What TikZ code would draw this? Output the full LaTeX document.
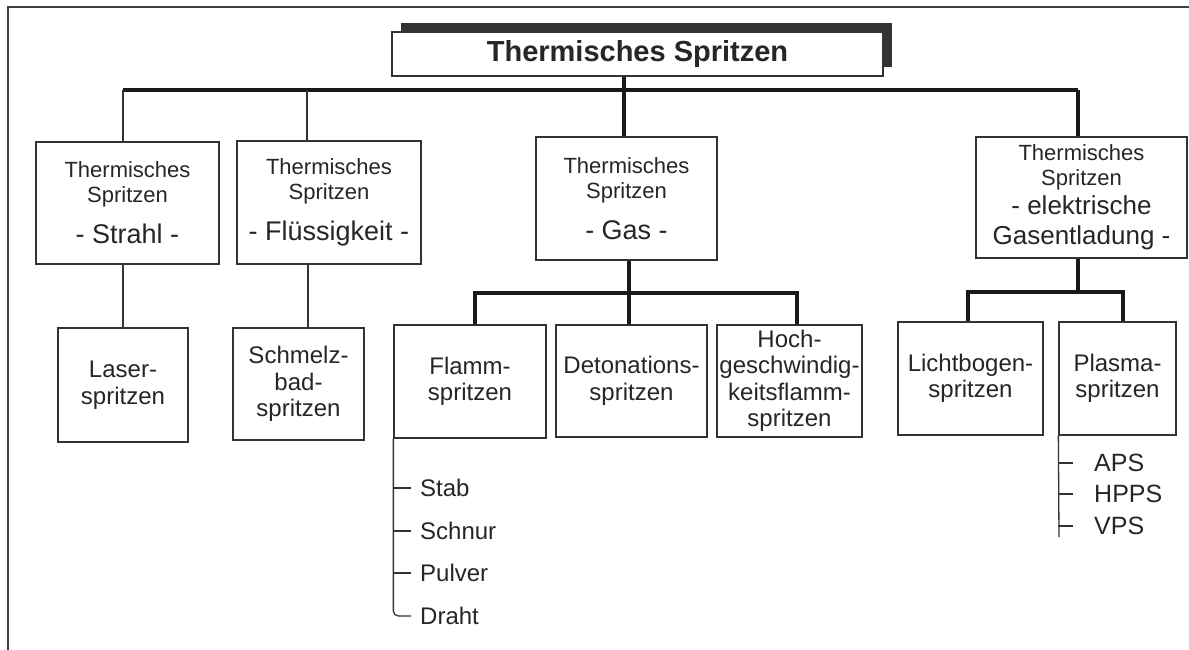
\documentclass[tikz,border=0pt]{standalone}
\usepackage{fontspec}
\setmainfont{Liberation Sans}
\usetikzlibrary{shadows}
\newcommand{\mybig}{\fontsize{27}{30}\selectfont}
\newcommand{\mymid}{\fontsize{26}{30}\selectfont}
\tikzset{
  box/.style={draw=black!80, line width=1.3pt, fill=white, inner sep=0pt, align=center,
              text=black!85, font=\fontsize{22}{25}\selectfont},
  subbox/.style={box, font=\fontsize{24}{26.5}\selectfont},
  bus/.style={line width=4pt, black!90},
  thinline/.style={line width=1.3pt, black!80},
  listitem/.style={anchor=west, inner ysep=0pt, inner xsep=9pt, text=black!85,
                   font=\fontsize{24}{27}\selectfont, text height=17pt, text depth=0pt},
  plitem/.style={listitem, inner xsep=21pt, font=\fontsize{25}{28}\selectfont}
}
\begin{document}
\begin{tikzpicture}[x=1pt,y=-1pt]
\useasboundingbox (0,0) rectangle (1189,650);
\fill[white] (0,0) rectangle (1189,650);
\draw[black!75, line width=1.3pt] (8,650) -- (8,7) -- (1189,7);

% title
\node[box, minimum width=491pt, minimum height=44pt,
      drop shadow={shadow xshift=9pt, shadow yshift=9pt, fill=black!80, opacity=1},
      font=\fontsize{29}{31}\selectfont\bfseries] (top) at (637.5,54) {Thermisches Spritzen};

% level 1
\node[box, minimum width=183pt, minimum height=122pt] (strahl) at (127.5,203)
  {Thermisches\\Spritzen\\[16pt]{\mybig - Strahl -}};
\node[box, minimum width=184pt, minimum height=123pt] (fluess) at (329,202.5)
  {Thermisches\\Spritzen\\[16pt]{\mybig - Flüssigkeit -}};
\node[box, minimum width=181pt, minimum height=123pt] (gas) at (626.5,198.5)
  {Thermisches\\Spritzen\\[16pt]{\mybig - Gas -}};
\node[box, minimum width=211pt, minimum height=121pt] (elek) at (1081.5,197.5)
  {Thermisches\\Spritzen\\[4pt]{\mymid - elektrische}\\[5pt]{\mymid Gasentladung -}};

% level 2
\node[subbox, minimum width=130pt, minimum height=114pt] (laser) at (123,385) {Laser-\\spritzen};
\node[subbox, minimum width=131pt, minimum height=112pt] (schmelz) at (298.5,384) {Schmelz-\\bad-\\spritzen};
\node[subbox, minimum width=152pt, minimum height=113pt] (flamm) at (470,381.5) {Flamm-\\spritzen};
\node[subbox, minimum width=151pt, minimum height=112pt] (deton) at (631.5,381) {Detonations-\\spritzen};
\node[subbox, minimum width=145pt, minimum height=112pt] (hoch) at (789.5,381) {Hoch-\\geschwindig-\\keitsflamm-\\spritzen};
\node[subbox, minimum width=145pt, minimum height=113pt] (licht) at (970.5,378.5) {Lichtbogen-\\spritzen};
\node[subbox, minimum width=117pt, minimum height=113pt] (plasma) at (1117.5,378.5) {Plasma-\\spritzen};

% lists
\node[listitem] (stab) at (411,488) {Stab};
\node[listitem] (schnur) at (411,531) {Schnur};
\node[listitem] (pulver) at (411,573) {Pulver};
\node[listitem] (draht) at (411,616) {Draht};
\node[plitem] (aps) at (1073,463) {APS};
\node[plitem] (hpps) at (1073,494) {HPPS};
\node[plitem] (vps) at (1073,526) {VPS};

% junction coordinates
\coordinate (b0) at (624,90);
\coordinate (bL) at (123,90);
\coordinate (bF) at (307,90);
\coordinate (bR) at (1078,90);
\coordinate (cF) at (308,300);
\coordinate (g0) at (629,293);
\coordinate (g1) at (475,293);
\coordinate (g2) at (797,293);
\coordinate (e0) at (1078,292);
\coordinate (e1) at (968,292);
\coordinate (e2) at (1123,292);
\coordinate (pend) at (1059,537);

% main tree
\draw[bus] (top.south -| b0) -- (gas.north -| b0);
\draw[bus] (bL) -- (bR);
\draw[bus] (bR) -- (elek.north -| bR);
\draw[thinline] (bL) -- (strahl.north -| bL);
\draw[thinline] (bF) -- (fluess.north -| bF);
\draw[thinline] (strahl.south -| laser.north) -- (laser.north);
\draw[thinline] (fluess.south -| cF) -- (schmelz.north -| cF);

% gas subtree
\draw[bus] (gas.south -| g0) -- (deton.north -| g0);
\draw[bus] (flamm.north -| g1) -- (g1) -- (g2) -- (hoch.north -| g2);

% electric subtree
\draw[bus] (elek.south -| e0) -- (e0);
\draw[bus] (licht.north -| e1) -- (e1) -- (e2) -- (plasma.north -| e2);

% flame list
\draw[thinline, rounded corners=5pt] (flamm.south west) |- (draht.west);
\draw[thinline] (flamm.south west |- stab.west) -- (stab.west);
\draw[thinline] (flamm.south west |- schnur.west) -- (schnur.west);
\draw[thinline] (flamm.south west |- pulver.west) -- (pulver.west);

% plasma list
\draw[thinline] (plasma.south west) -- (pend);
\draw[thinline] (plasma.south west |- aps.west) -- (aps.west);
\draw[thinline] (plasma.south west |- hpps.west) -- (hpps.west);
\draw[thinline] (plasma.south west |- vps.west) -- (vps.west);
\end{tikzpicture}
\end{document}
